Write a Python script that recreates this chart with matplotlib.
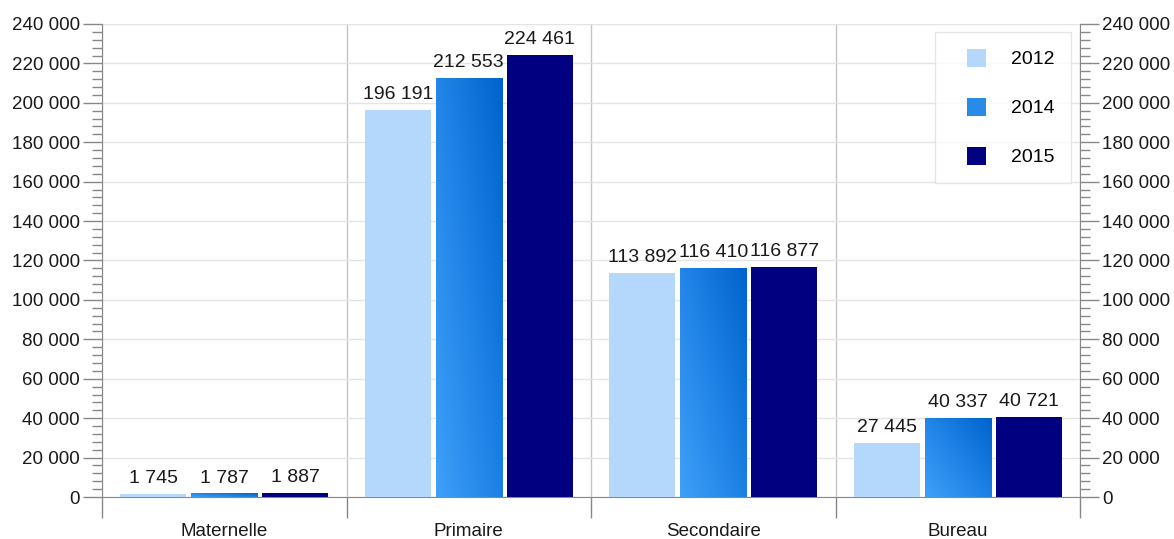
import numpy as np
import matplotlib.pyplot as plt
from matplotlib.ticker import MultipleLocator, FuncFormatter
from matplotlib.patches import Patch, Rectangle
from matplotlib.legend_handler import HandlerPatch
from matplotlib.colors import LinearSegmentedColormap

plt.rcParams['font.family'] = ['Liberation Sans', 'DejaVu Sans']

categories = ["Maternelle", "Primaire", "Secondaire", "Bureau"]
years = ["2012", "2014", "2015"]
values_2012 = [1745, 196191, 113892, 27445]
values_2014 = [1787, 212553, 116410, 40337]
values_2015 = [1887, 224461, 116877, 40721]

color_2012 = "#b3d8fb"
color_2015 = "#000080"
grad_2014 = LinearSegmentedColormap.from_list("g2014", ["#3fa0f8", "#1f82e6", "#0063cc"])


def fmt(v, pos=None):
    return f"{int(v):,}".replace(",", " ")


def square_patch(legend, orig_handle, xdescent, ydescent, width, height, fontsize):
    # square swatch pushed to the right end of the handle box
    return Rectangle((width - height - xdescent, -ydescent), height, height)


fig = plt.figure(figsize=(11.74, 5.39), dpi=100)
ax = fig.add_axes([0.0869, 0.0779, 0.8331, 0.8776])

x = np.arange(len(categories))
step = 0.29
width = 0.27

series = [values_2012, values_2014, values_2015]
colors = [color_2012, "#2a8ae8", color_2015]
for i, (vals, col) in enumerate(zip(series, colors)):
    bars = ax.bar(x + (i - 1) * step, vals, width, color=col, zorder=3, linewidth=0)
    if i == 1:
        # diagonal gradient fill, lighter at the top-left corner
        u, v = np.meshgrid(np.linspace(0, 1, 60), np.linspace(0, 1, 200))
        grad = 0.55 * u + 0.45 * v
        for b in bars:
            x0, y0 = b.get_x(), b.get_y()
            im = ax.imshow(grad, cmap=grad_2014, vmin=0, vmax=1, aspect="auto",
                           extent=[x0, x0 + b.get_width(), y0 + b.get_height(), y0],
                           origin="upper", zorder=3.5, interpolation="bilinear")
            im.set_clip_path(b)
    for b, val in zip(bars, vals):
        ax.annotate(fmt(val), (b.get_x() + b.get_width() / 2, val),
                    xytext=(0, 5), textcoords="offset points",
                    ha="center", va="bottom", fontsize=14, color="#1a1a1a", zorder=5)

ax.set_xlim(-0.5, 3.5)
ax.set_ylim(0, 240000)

# category boundaries carry the tick marks, names sit at the centres
ax.set_xticks(np.arange(-0.5, 4, 1))
ax.set_xticklabels([])
ax.set_xticks(x, minor=True)
ax.set_xticklabels(categories, minor=True, fontsize=13.5, color="#1a1a1a")
ax.tick_params(axis="x", which="major", length=15, width=1, color="#888888", direction="out")
ax.tick_params(axis="x", which="minor", length=0, pad=19)
ax.grid(axis="x", which="major", color="#c4c4c4", linewidth=1, zorder=0)

ax.yaxis.set_major_locator(MultipleLocator(20000))
ax.yaxis.set_minor_locator(MultipleLocator(4000))
ax.yaxis.set_major_formatter(FuncFormatter(fmt))
ax.tick_params(axis="y", which="major", length=14, width=1, color="#888888", labelsize=13.5, labelcolor="#1a1a1a", pad=2)
ax.tick_params(axis="y", which="minor", length=7, width=1, color="#888888")
ax.grid(axis="y", which="major", color="#e4e4e4", linewidth=1, zorder=0)

ax.spines["top"].set_visible(False)
ax.spines["right"].set_visible(False)
ax.spines["left"].set_color("#888888")
ax.spines["bottom"].set_color("#888888")

ax2 = ax.twinx()
ax2.set_ylim(0, 240000)
ax2.yaxis.set_major_locator(MultipleLocator(20000))
ax2.yaxis.set_minor_locator(MultipleLocator(4000))
ax2.yaxis.set_major_formatter(FuncFormatter(fmt))
ax2.tick_params(axis="y", which="major", length=14, width=1, color="#888888", labelsize=13.5, labelcolor="#1a1a1a", pad=2)
ax2.tick_params(axis="y", which="minor", length=7, width=1, color="#888888")
ax2.spines["top"].set_visible(False)
ax2.spines["left"].set_visible(False)
ax2.spines["bottom"].set_visible(False)
ax2.spines["right"].set_color("#888888")

handles = [Patch(facecolor=c, edgecolor="none") for c in colors]
leg = ax2.legend(handles, years, loc="upper right", bbox_to_anchor=(0.9908, 0.983),
                 fontsize=14, frameon=True, fancybox=False, labelspacing=1.5,
                 handlelength=1.75, handleheight=1.08, handletextpad=1.3,
                 borderpad=0.85, borderaxespad=0,
                 handler_map={Patch: HandlerPatch(patch_func=square_patch)})
leg.get_frame().set_edgecolor("#e0e0e0")
leg.get_frame().set_linewidth(1)

fig.savefig("out.png", dpi=100)
